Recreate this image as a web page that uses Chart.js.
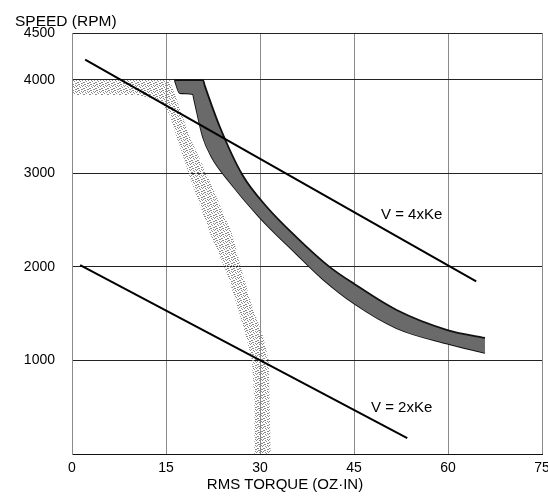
<!DOCTYPE html>
<html>
<head>
<meta charset="utf-8">
<script src="https://cdn.jsdelivr.net/npm/chart.js@4.4.1/dist/chart.umd.min.js"></script>
<style>
  html, body { margin: 0; padding: 0; background: #fff; }
  #wrap { width: 548px; height: 499px; }
</style>
</head>
<body>
<div id="wrap"><canvas id="speedChart" width="548" height="499"></canvas></div>
<script>
// axis ticks
const torqueTicks = [0, 15, 30, 45, 60, 75]
const speedTicks = [0, 1000, 2000, 3000, 4000, 4500]

// straight voltage lines (torque, speed)
const v4Torque = [2.1, 64.5]
const v4Speed = [4215, 1845]
const v2Torque = [1.3, 53.5]
const v2Speed = [2020, 170]

// dark band: outer edge and inner edge
const darkOuterTorque = [16.4, 20.9, 21.2, 23.6, 27.2, 31.1, 35.8, 41.1, 45.1, 51.8, 59.9, 65.9]
const darkOuterSpeed = [3997, 3997, 3935, 3495, 2982, 2640, 2319, 2000, 1815, 1539, 1325, 1240]
const darkInnerTorque = [16.4, 17.2, 19.3, 19.5, 20.9, 22.3, 25.0, 29.9, 35.8, 40.0, 45.1, 51.8, 59.9, 65.9]
const darkInnerSpeed = [3997, 3858, 3848, 3790, 3388, 3174, 2920, 2533, 2140, 1870, 1605, 1345, 1180, 1080]

// dotted band, outer edge then inner edge back
const dotTorque = [0, 15.6, 16.9, 18.8, 21.7, 25.5, 27.2, 28.8, 30.4, 31.4, 31.7,
    29.1, 29.1, 28.7, 27.6, 26.4, 24.7, 22.0, 18.8, 16.7, 15.6, 14.0, 10.4, 0, 0]
const dotSpeed = [3997, 3997, 3752, 3388, 2961, 2362, 1935, 1571, 1280, 1005, 0,
    0, 577, 1005, 1300, 1571, 1935, 2362, 2961, 3388, 3623, 3784, 3837, 3837, 3997]

const lineLabels = ['V = 4xKe', 'V = 2xKe']

function toPoints(xs, ys) {
    return xs.map((x, i) => ({ x: x, y: ys[i] }))
}

const canvas = document.getElementById('speedChart')
const ctx = canvas.getContext('2d')

// speckle pattern for the light band
const pc = document.createElement('canvas')
pc.width = 6
pc.height = 6
const p = pc.getContext('2d')
p.fillStyle = '#8a8a8a'
;[[0, 0], [1, 0], [3, 1], [4, 2], [2, 3], [5, 4], [0, 4], [3, 5], [1, 2], [5, 1], [4, 5]].forEach(([a, b]) => p.fillRect(a, b, 1, 1))
const dotPattern = ctx.createPattern(pc, 'repeat')

const font = 'Liberation Sans, Arial, Helvetica, sans-serif'

const textPlugin = {
    id: 'texts',
    afterDraw(chart) {
        const c = chart.ctx
        const xs = chart.scales.x
        const ys = chart.scales.y
        c.save()
        c.fillStyle = '#000'
        c.textBaseline = 'middle'
        c.font = '15.5px ' + font
        c.textAlign = 'left'
        c.fillText('SPEED (RPM)', 15, 22)
        c.font = '15px ' + font
        c.textAlign = 'center'
        c.fillText('RMS TORQUE (OZ·IN)', 285, 485)
        c.fillText(lineLabels[0], xs.getPixelForValue(54.2), ys.getPixelForValue(2555))
        c.fillText(lineLabels[1], xs.getPixelForValue(52.6), ys.getPixelForValue(492))
        c.restore()
    }
}

const config = {
    type: 'scatter',
    data: {
        datasets: [
            {
                data: toPoints(v4Torque, v4Speed),
                showLine: true,
                borderColor: '#000',
                borderWidth: 2,
                pointRadius: 0,
                order: 0
            },
            {
                data: toPoints(v2Torque, v2Speed),
                showLine: true,
                borderColor: '#000',
                borderWidth: 2,
                pointRadius: 0,
                order: 0
            },
            {
                data: toPoints(darkOuterTorque, darkOuterSpeed),
                showLine: true,
                borderColor: '#111',
                borderWidth: 1.8,
                backgroundColor: '#6a6a6a',
                cubicInterpolationMode: 'monotone',
                fill: 3,
                pointRadius: 0,
                order: 1
            },
            {
                data: toPoints(darkInnerTorque, darkInnerSpeed),
                showLine: true,
                borderColor: '#111',
                borderWidth: 1.8,
                cubicInterpolationMode: 'monotone',
                fill: false,
                pointRadius: 0,
                order: 1
            },
            {
                data: toPoints(dotTorque, dotSpeed),
                showLine: true,
                borderWidth: 0,
                borderColor: 'rgba(0,0,0,0)',
                backgroundColor: dotPattern,
                fill: 'shape',
                pointRadius: 0,
                order: 2
            }
        ]
    },
    options: {
        responsive: false,
        animation: false,
        layout: {
            padding: { top: 33, right: 6, left: 0, bottom: 0 }
        },
        plugins: {
            legend: { display: false },
            tooltip: { enabled: false }
        },
        scales: {
            x: {
                type: 'linear',
                min: 0,
                max: 75,
                afterBuildTicks: (axis) => { axis.ticks = torqueTicks.map(v => ({ value: v })) },
                afterFit: (axis) => {
                    axis.height = 45
                    axis.paddingLeft = 0
                    axis.paddingRight = 0
                },
                grid: { color: '#8a8a8a', lineWidth: 1, drawTicks: false },
                border: { color: '#111', width: 1 },
                ticks: {
                    padding: 6,
                    color: '#000',
                    font: { family: font, size: 14 }
                }
            },
            y: {
                type: 'linear',
                min: 0,
                max: 4500,
                afterBuildTicks: (axis) => { axis.ticks = speedTicks.map(v => ({ value: v })) },
                afterFit: (axis) => {
                    axis.width = 72
                    axis.paddingTop = 0
                    axis.paddingBottom = 0
                },
                grid: { color: '#222', lineWidth: 1, drawTicks: false },
                border: { color: '#8a8a8a', width: 1 },
                ticks: {
                    padding: 17,
                    color: '#000',
                    font: { family: font, size: 14 },
                    callback: (v) => v === 0 ? '' : v
                }
            }
        }
    },
    plugins: [textPlugin]
}

const myChart = new Chart(canvas, config)
</script>
</body>
</html>
